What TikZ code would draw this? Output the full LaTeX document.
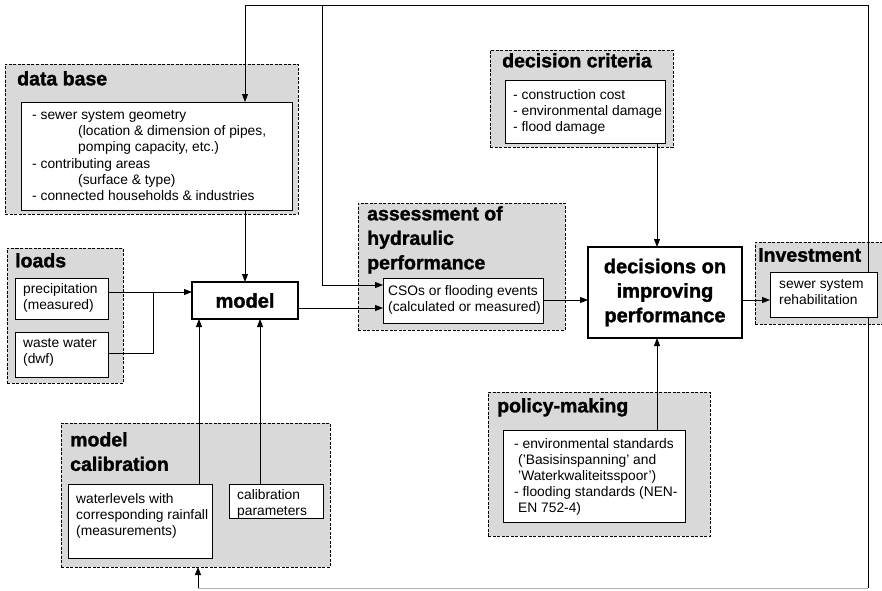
\documentclass[tikz,border=0pt]{standalone}
\usepackage{fontspec}
\setmainfont{Liberation Sans}[BoldFeatures={FakeBold=1.5}]
\usetikzlibrary{arrows.meta,calc}
\begin{document}
\begin{tikzpicture}[x=1pt,y=-1pt,
  region/.style={draw=black,fill=gray!30,line width=0.9pt,dash pattern=on 3pt off 1.5pt,anchor=north west,inner sep=0pt,outer sep=0pt},
  ibox/.style={draw=black,fill=white,line width=0.8pt,anchor=north west,inner sep=0pt,outer sep=0pt},
  mainbox/.style={draw=black,fill=white,line width=2.6pt,inner sep=0pt,outer sep=0pt,align=center,font=\bfseries\fontsize{20}{24.5}\selectfont},
  ttl/.style={anchor=north west,inner sep=0pt,align=left,font=\bfseries\fontsize{19.5}{24.5}\selectfont},
  txt/.style={anchor=north west,inner sep=0pt,align=left,font=\fontsize{13.8}{16}\selectfont},
  arr/.style={line width=0.9pt,-{Triangle[length=8pt,width=6pt]}},
  ln/.style={line width=0.9pt}]
\useasboundingbox (0,0) rectangle (882,590);
% regions
\node[region,minimum width=293pt,minimum height=150pt] (dbR) at (5,64) {};
\node[region,minimum width=116pt,minimum height=135pt] (ldR) at (7,248) {};
\node[region,minimum width=269pt,minimum height=144pt] (mcR) at (61,423) {};
\node[region,minimum width=207pt,minimum height=127pt] (asR) at (358,203) {};
\node[region,minimum width=183pt,minimum height=97pt] (dcR) at (490,50) {};
\node[region,minimum width=140pt,minimum height=82pt] (ivR) at (755,242) {};
\node[region,minimum width=222pt,minimum height=144pt] (pmR) at (488,392) {};
% feedback loop
\coordinate (tr) at (868,5);
\coordinate (br) at (868,588);
\coordinate (bl) at (198,588);
\coordinate (tl) at (245,5);
\coordinate (tm) at (322,5);
\draw[ln] (tr) -- (br);
\draw[line width=0.9pt,gray!60] (br) -- (bl);
% titles
\node[ttl] (dbT) at (17,71) {data base};
\node[ttl] (ldT) at (15,253) {loads};
\node[ttl] (mcT) at (70,432) {model\\calibration};
\node[ttl] (asT) at (367,206) {assessment of\\hydraulic\\performance};
\node[ttl] (dcT) at (502,53) {decision criteria};
\node[ttl] (ivT) at (758,248) {Investment};
\node[ttl] (pmT) at (497,398) {policy-making};
% inner boxes
\node[ibox,minimum width=271pt,minimum height=108pt] (db) at (21,102) {};
\node[txt,font=\fontsize{13.8}{16.3}\selectfont] (dbtx) at (32,110) {- sewer system geometry\\
\hspace*{46pt}(location \& dimension of pipes,\\
\hspace*{46pt}pomping capacity, etc.)\\
- contributing areas\\
\hspace*{46pt}(surface \& type)\\
- connected households \& industries};
\node[ibox,minimum width=93pt,minimum height=41pt] (pr) at (15,278) {};
\node[txt] (prtx) at (23,283) {precipitation\\(measured)};
\node[ibox,minimum width=93pt,minimum height=45pt] (ww) at (15,332) {};
\node[txt] (wwtx) at (23,338) {waste water\\(dwf)};
\node[ibox,minimum width=144pt,minimum height=74pt] (wl) at (68,484) {};
\node[txt] (wltx) at (76,493) {waterlevels with\\corresponding rainfall\\(measurements)};
\node[ibox,minimum width=94pt,minimum height=34pt] (cp) at (229,484) {};
\node[txt] (cptx) at (237,489) {calibration\\parameters};
\node[ibox,minimum width=160pt,minimum height=45pt] (cso) at (383,278) {};
\node[txt] (csotx) at (388,285) {CSOs or flooding events\\(calculated or measured)};
\node[ibox,minimum width=160pt,minimum height=63pt] (dc) at (505,80) {};
\node[txt] (dctx) at (513,89) {- construction cost\\- environmental damage\\- flood damage};
\node[ibox,minimum width=107pt,minimum height=45pt] (iv) at (770,272) {};
\node[txt] (ivtx) at (779,279) {sewer system\\rehabilitation};
\node[ibox,minimum width=182pt,minimum height=92pt] (pm) at (503,430) {};
\node[txt] (pmtx) at (514,438) {- environmental standards\\
\hspace*{4pt}('Basisinspanning' and\\
\hspace*{4pt}'Waterkwaliteitsspoor')\\
- flooding standards (NEN-\\
\hspace*{4pt}EN 752-4)};
% main boxes
\node[mainbox,minimum width=106pt,minimum height=37pt] (model) at (245,300.5) {model};
\node[mainbox,minimum width=154pt,minimum height=91pt] (dec) at (665,292.5) {decisions on\\improving\\performance};
% connectors
\draw[arr] (tr) -- (tl) -- (tl |- db.north);
\draw[arr] (tm) |- ($(cso.north west)+(0,7)$);
\draw[arr] (bl) -- (bl |- mcR.south);
\draw[arr] (db.south -| tl) -- (model.north -| tl);
\coordinate (jn) at (153,292);
\draw[arr] (pr.east |- jn) -- (jn -| model.west);
\draw[ln] ($(ww.north east)+(0,21)$) -| (jn);
\coordinate (c1) at (199,0);
\coordinate (c2) at (260,0);
\draw[arr] (wl.north -| c1) -- (model.south -| c1);
\draw[arr] (cp.north -| c2) -- (model.south -| c2);
\coordinate (ms) at (0,308);
\draw[arr] (model.east |- ms) -- (cso.west |- ms);
\coordinate (ds) at (0,300);
\draw[arr] (cso.east |- ds) -- (dec.west |- ds);
\draw[arr] (dec.east |- ds) -- (iv.west |- ds);
\coordinate (c3) at (657,0);
\draw[arr] (dc.south -| c3) -- (dec.north -| c3);
\draw[arr] (pm.north -| c3) -- (dec.south -| c3);
\end{tikzpicture}
\end{document}
